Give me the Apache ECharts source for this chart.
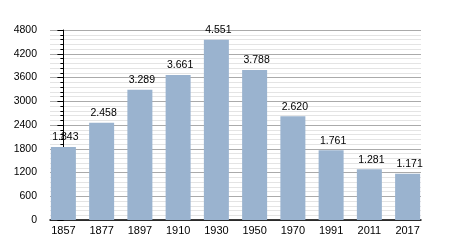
<!DOCTYPE html>
<html><head><meta charset="utf-8">
<script src="https://cdn.jsdelivr.net/npm/echarts@6/dist/echarts.min.js"></script>
<style>html,body{margin:0;padding:0;background:#fff}#c{width:450px;height:250px}</style>
</head><body><div id="c"></div>
<script>
var categories = ['1857','1877','1897','1910','1930','1950','1970','1991','2011','2017'];
var population = [1843,2458,3289,3661,4551,3788,2620,1761,1281,1171];
var yTicks = [0,600,1200,1800,2400,3000,3600,4200,4800];

function fmt(v){return String(v).replace(/\B(?=(\d{3})+(?!\d))/g,'.');}
var idx = categories.map(function(c,i){return i;});
var chart = echarts.init(document.getElementById('c'));
chart.setOption({
  animation:false,
  textStyle:{fontFamily:'Liberation Sans, Arial, sans-serif'},
  grid:{left:50,right:29,top:30,bottom:30},
  xAxis:{type:'value',min:-0.35,max:categories.length-1+0.35,
    splitLine:{show:false},minorSplitLine:{show:false},
    axisLine:{show:true,onZero:false,lineStyle:{color:'#000',width:1.5}},
    axisTick:{show:false},minorTick:{show:false},
    axisLabel:{color:'#000',fontSize:11,margin:5,customValues:idx,
      formatter:function(v){return categories[Math.round(v)];}}},
  yAxis:{type:'value',min:yTicks[0],max:yTicks[yTicks.length-1],interval:600,
    axisLine:{show:true,lineStyle:{color:'#000'}},
    axisTick:{show:true,length:6,inside:false,lineStyle:{color:'#000'}},
    minorTick:{show:true,splitNumber:5,length:3,lineStyle:{color:'#000'}},
    axisLabel:{color:'#000',fontSize:10.5,margin:13,formatter:function(v){return String(v);}},
    splitLine:{lineStyle:{color:'#aaa'}},
    minorSplitLine:{show:true,lineStyle:{color:'#e4e4e4'}}},
  series:[{type:'bar',barWidth:25,
    data:population.map(function(v,i){return [i,v];}),
    itemStyle:{color:'#9ab3cf'},
    label:{show:true,position:'top',color:'#000',fontSize:10.5,distance:2,offset:[2,-2],
      formatter:function(p){return fmt(p.value[1]);}}}]
});
</script></body></html>
